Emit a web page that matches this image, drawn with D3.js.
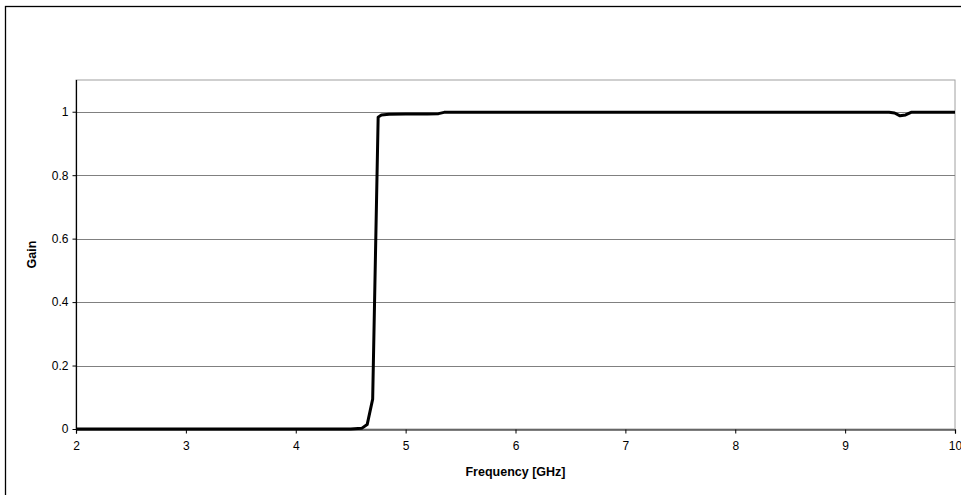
<!DOCTYPE html>
<html>
<head>
<meta charset="utf-8">
<script src="https://cdn.jsdelivr.net/npm/d3@7"></script>
<style>
  html, body { margin: 0; padding: 0; background: #fff; }
  svg { display: block; font-family: "Liberation Sans", Arial, sans-serif; }
</style>
</head>
<body>
<svg id="chart" width="961" height="495"></svg>
<script>
// frequency samples (GHz) and gain
const freq = [2.0, 2.5, 3.0, 3.5, 4.0, 4.5, 4.6, 4.65, 4.7, 4.75, 4.78, 4.85, 5.0, 5.1, 5.2, 5.3, 5.35, 5.5, 6.0, 6.5, 7.0, 7.5, 8.0, 8.5, 9.0, 9.4, 9.45, 9.5, 9.55, 9.6, 10.0];
const gain = [0, 0, 0, 0, 0, 0, 0.002, 0.014, 0.094, 0.983, 0.99, 0.992, 0.993, 0.993, 0.993, 0.994, 0.998, 0.998, 0.998, 0.998, 0.998, 0.998, 0.998, 0.998, 0.998, 0.998, 0.996, 0.987, 0.99, 0.998, 0.998];
const xTicks = [2, 3, 4, 5, 6, 7, 8, 9, 10];
const yTicks = [0, 0.2, 0.4, 0.6, 0.8, 1];

const margin = { top: 80, right: 6, bottom: 66, left: 76 };
const W = 961, H = 495;

const svg = d3.select("#chart");

// outer chart border (runs off right/bottom)
svg.append("rect")
  .attr("x", 5.5).attr("y", 6.5)
  .attr("width", 1000).attr("height", 1000)
  .attr("fill", "none").attr("stroke", "#000").attr("stroke-width", 1.3);

const x = d3.scaleLinear().domain([2, 10]).range([margin.left, W - margin.right]);
const y = d3.scaleLinear().domain([0, 1.1]).range([H - margin.bottom, margin.top]);

// plot frame (gray top/right)
svg.append("rect")
  .attr("x", x(2)).attr("y", y(1.1))
  .attr("width", x(10) - x(2)).attr("height", y(0) - y(1.1))
  .attr("fill", "none").attr("stroke", "#a0a0a0").attr("stroke-width", 1);

// gridlines
svg.append("g").selectAll("line")
  .data(yTicks.filter(d => d > 0))
  .join("line")
  .attr("x1", x(2)).attr("x2", x(10))
  .attr("y1", d => Math.round(y(d)) + 0.5).attr("y2", d => Math.round(y(d)) + 0.5)
  .attr("stroke", "#808080").attr("stroke-width", 1);

// axes
const xAxis = svg.append("g")
  .attr("transform", `translate(0,${Math.round(y(0)) + 0.5})`)
  .call(d3.axisBottom(x).tickValues(xTicks).tickFormat(d3.format("d")).tickSizeOuter(0).tickSize(4).tickPadding(8));
const yAxis = svg.append("g")
  .attr("transform", `translate(${Math.round(x(2)) + 0.5},0)`)
  .call(d3.axisLeft(y).tickValues(yTicks).tickFormat(d => d === 0 || d === 1 ? d : d.toFixed(1)).tickSizeOuter(0).tickSize(4).tickPadding(4));

[xAxis, yAxis].forEach(a => {
  a.select(".domain").attr("stroke", "#000").attr("stroke-width", 1.2);
  a.selectAll(".tick line").attr("stroke", "#000");
  a.selectAll("text").attr("font-size", 12).attr("fill", "#000").attr("font-family", "Liberation Sans, Arial, sans-serif");
});
yAxis.select(".domain").attr("d", `M0,${y(1.1)}V${y(0)}`);

// data line
svg.append("path")
  .datum(freq.map((f, i) => [f, gain[i]]))
  .attr("fill", "none")
  .attr("stroke", "#000")
  .attr("stroke-width", 3)
  .attr("stroke-linejoin", "round")
  .attr("d", d3.line().x(d => x(d[0])).y(d => y(d[1])));

// axis titles
svg.append("text")
  .attr("x", (x(2) + x(10)) / 2).attr("y", 476)
  .attr("text-anchor", "middle")
  .attr("font-size", 12.5).attr("font-weight", 700)
  .text("Frequency [GHz]");

svg.append("text")
  .attr("transform", `translate(36,${(y(0) + y(1.1)) / 2}) rotate(-90)`)
  .attr("text-anchor", "middle")
  .attr("font-size", 12.5).attr("font-weight", 700)
  .text("Gain");
</script>
</body>
</html>
